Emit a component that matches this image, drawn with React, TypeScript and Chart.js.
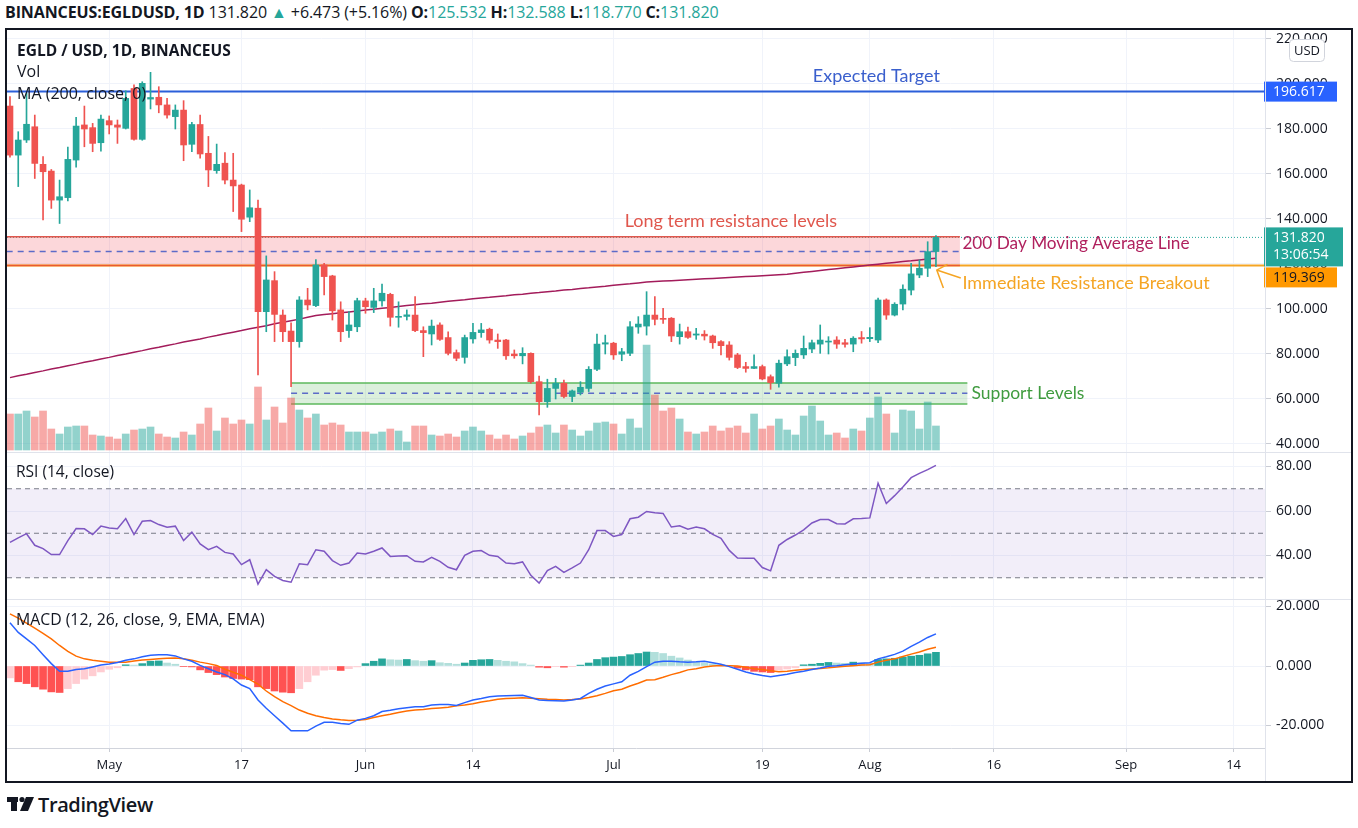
import React, { useEffect, useRef } from 'react';
import { Chart, registerables } from 'chart.js';

Chart.register(...registerables);

// ---------------- DATA (daily candles, Apr 19 -> Aug 9) ----------------
const OPEN = [190.2, 168.4, 175.1, 181.0, 164.3, 161.3, 148.4, 149.5, 166.2, 181.8, 180.6, 173.9, 183.7, 181.8, 180.3, 198.0, 175.4, 193.3, 194.1, 190.7, 185.5, 188.4, 173.2, 182.0, 169.2, 161.5, 164.8, 157.3, 155.1, 140.8, 144.8, 98.8, 112.6, 97.3, 90.2, 85.5, 104.0, 101.5, 119.6, 114.7, 99.6, 90.4, 92.1, 103.6, 100.7, 103.6, 106.5, 96.3, 96.7, 97.3, 90.4, 88.9, 92.9, 87.3, 80.6, 78.5, 86.7, 89.5, 91.0, 86.2, 86.2, 80.0, 79.2, 80.3, 67.7, 58.8, 64.7, 67.0, 61.1, 63.0, 64.7, 73.2, 84.4, 84.8, 79.9, 80.3, 92.0, 92.4, 97.3, 95.8, 95.9, 87.7, 89.9, 88.4, 88.8, 88.0, 85.5, 84.0, 79.6, 74.4, 73.6, 74.4, 69.9, 67.0, 75.6, 78.4, 79.6, 82.2, 84.4, 85.3, 86.2, 85.0, 84.4, 87.3, 86.8, 86.2, 104.0, 97.3, 102.2, 108.4, 115.1, 118.1, 125.532];
const HIGH = [194.4, 178.8, 195.9, 186.2, 167.7, 162.0, 157.3, 172.0, 185.2, 190.2, 182.5, 186.2, 185.8, 184.0, 197.0, 199.6, 201.0, 205.2, 198.8, 193.6, 190.7, 192.6, 183.0, 186.2, 176.7, 173.3, 169.5, 169.2, 155.5, 152.9, 148.4, 123.6, 116.6, 99.6, 93.9, 105.5, 109.2, 122.0, 120.3, 115.0, 103.2, 98.8, 104.8, 104.8, 109.2, 111.1, 107.0, 103.2, 99.6, 105.5, 92.1, 95.1, 93.9, 89.9, 81.8, 88.4, 93.6, 93.6, 91.5, 88.9, 86.5, 81.8, 82.8, 80.5, 70.2, 68.8, 69.2, 68.4, 64.0, 67.7, 74.4, 88.9, 88.4, 85.2, 82.5, 94.4, 96.6, 107.7, 105.5, 100.3, 96.2, 93.3, 92.0, 91.4, 90.4, 88.4, 86.0, 85.5, 80.3, 76.3, 79.6, 75.1, 70.7, 77.3, 81.8, 81.8, 88.0, 86.2, 92.9, 87.7, 87.7, 86.5, 87.7, 90.0, 91.7, 104.8, 104.5, 102.8, 110.7, 120.3, 121.8, 129.9, 132.588];
const LOW = [167.5, 154.4, 174.0, 158.0, 139.6, 144.7, 138.0, 148.0, 163.0, 172.1, 169.9, 170.2, 177.8, 173.6, 180.0, 175.0, 175.0, 188.9, 187.2, 184.8, 180.0, 165.9, 169.9, 167.0, 154.4, 160.3, 155.6, 143.3, 134.4, 138.8, 70.7, 89.9, 85.5, 85.5, 65.5, 83.0, 99.6, 101.0, 106.2, 95.1, 85.5, 87.4, 89.9, 98.1, 98.4, 101.3, 92.4, 91.9, 95.1, 89.9, 78.8, 84.0, 86.0, 79.6, 77.0, 75.9, 84.8, 87.4, 84.8, 82.5, 77.6, 78.1, 75.6, 67.0, 52.9, 56.3, 60.0, 60.5, 58.8, 61.8, 63.3, 72.6, 80.0, 77.6, 77.0, 79.2, 89.2, 88.4, 92.9, 93.6, 85.5, 84.4, 86.9, 86.5, 86.2, 82.5, 79.6, 77.3, 73.5, 71.9, 73.5, 68.5, 64.3, 65.2, 74.8, 74.8, 78.0, 80.6, 80.3, 80.0, 82.5, 83.0, 81.0, 84.8, 85.5, 85.0, 95.4, 96.9, 99.6, 106.2, 113.9, 114.4, 118.77];
const CLOSE = [168.4, 175.1, 182.1, 164.7, 161.0, 148.4, 149.9, 166.5, 181.3, 180.0, 173.6, 184.4, 181.8, 180.8, 193.6, 175.4, 200.3, 194.0, 190.7, 186.2, 188.4, 172.9, 182.0, 168.9, 161.8, 164.3, 157.3, 154.7, 139.9, 145.0, 98.8, 112.9, 97.6, 89.9, 85.5, 104.0, 101.8, 119.6, 114.4, 99.2, 89.9, 92.9, 103.7, 101.0, 103.6, 107.0, 96.3, 96.7, 97.4, 90.4, 89.5, 92.4, 86.5, 80.3, 78.1, 87.3, 89.6, 90.7, 86.2, 85.5, 79.2, 79.2, 80.3, 67.7, 58.8, 64.7, 67.0, 61.1, 63.6, 65.2, 73.2, 84.4, 85.0, 79.6, 81.0, 92.1, 93.3, 97.3, 95.4, 95.4, 88.0, 89.9, 87.4, 88.9, 88.0, 85.0, 83.7, 78.5, 74.0, 73.6, 74.4, 68.9, 67.3, 75.9, 78.8, 80.3, 82.5, 85.0, 86.2, 85.6, 84.4, 84.3, 87.0, 86.7, 87.4, 104.0, 97.3, 102.1, 108.8, 115.6, 118.1, 125.5, 131.82];
// volume, thousand EGLD
const VOLUME = [360, 360, 390, 330, 390, 210, 160, 230, 240, 240, 150, 140, 130, 110, 160, 200, 210, 230, 160, 130, 120, 180, 150, 260, 420, 190, 320, 260, 300, 260, 630, 300, 430, 270, 520, 400, 320, 360, 250, 270, 250, 180, 180, 180, 160, 180, 210, 190, 80, 240, 240, 150, 140, 160, 130, 190, 230, 190, 150, 110, 150, 110, 140, 170, 230, 250, 170, 250, 200, 140, 190, 270, 280, 260, 160, 310, 220, 1050, 550, 390, 420, 310, 180, 160, 180, 240, 190, 220, 240, 170, 360, 210, 240, 310, 200, 150, 340, 440, 290, 150, 170, 120, 210, 190, 320, 530, 360, 170, 400, 390, 210, 480, 240];
const MA200 = [69.5, 70.3, 71.0, 71.8, 72.5, 73.3, 74.0, 74.8, 75.5, 76.3, 77.0, 77.8, 78.5, 79.3, 80.0, 80.8, 81.5, 82.3, 83.0, 83.8, 84.5, 85.3, 86.0, 86.7, 87.5, 88.2, 89.0, 89.7, 90.4, 91.2, 91.9, 92.6, 93.4, 94.1, 94.8, 95.5, 96.3, 97.1, 97.5, 97.9, 98.3, 98.7, 99.1, 99.5, 99.9, 100.3, 100.7, 101.1, 101.5, 101.9, 102.3, 102.6, 103.0, 103.4, 103.8, 104.1, 104.5, 104.9, 105.2, 105.6, 105.9, 106.3, 106.6, 107.0, 107.3, 107.7, 108.0, 108.4, 108.7, 109.1, 109.4, 109.8, 110.1, 110.5, 110.9, 111.2, 111.6, 112.0, 112.2, 112.4, 112.6, 112.8, 113.0, 113.2, 113.4, 113.6, 113.8, 114.0, 114.2, 114.4, 114.6, 114.8, 115.0, 115.2, 115.4, 115.9, 116.3, 116.7, 117.1, 117.5, 117.9, 118.3, 118.7, 119.1, 119.5, 119.9, 120.3, 120.7, 121.1, 121.4, 121.8, 122.2, 122.6, 123.0];
const RSI = [45.9, 47.9, 49.8, 44.6, 43.1, 40.4, 40.4, 46.7, 52.1, 52.0, 49.4, 53.2, 52.4, 52.0, 56.6, 49.4, 55.4, 55.7, 53.9, 52.7, 53.2, 46.7, 50.5, 45.2, 42.6, 44.1, 41.4, 40.7, 35.9, 38.1, 27.1, 33.6, 30.6, 28.8, 28.0, 36.3, 35.9, 42.6, 41.9, 37.7, 35.6, 36.6, 41.1, 40.7, 41.9, 43.4, 39.6, 39.8, 39.9, 37.4, 37.1, 39.2, 37.4, 34.7, 33.6, 40.1, 41.9, 42.2, 40.1, 39.6, 36.6, 36.3, 37.1, 31.1, 27.6, 33.2, 35.1, 32.4, 34.4, 36.6, 42.6, 51.2, 51.2, 48.6, 49.4, 56.5, 57.2, 59.8, 59.2, 58.9, 52.8, 53.4, 51.8, 52.8, 52.0, 49.5, 47.7, 42.3, 38.9, 38.8, 38.8, 34.6, 33.1, 44.6, 47.2, 49.2, 51.5, 54.6, 56.2, 56.2, 54.3, 54.2, 56.5, 56.6, 56.9, 72.5, 63.4, 66.9, 70.8, 75.0, 76.9, 78.6, 80.5];
const MACD = [14.5, 11.3, 9.1, 6.9, 3.8, 0.8, -1.8, -1.8, -1.2, -0.9, -0.3, 0.3, 0.7, 1.2, 1.9, 2.4, 3.1, 3.6, 3.8, 3.8, 3.4, 2.4, 1.6, 0.2, -0.9, -2.0, -2.9, -4.3, -6.4, -7.6, -11.4, -14.2, -16.7, -19.2, -21.8, -21.8, -21.8, -20.2, -18.9, -18.9, -19.3, -19.6, -18.2, -17.6, -16.7, -15.3, -14.9, -14.4, -14.0, -13.7, -13.7, -13.1, -12.9, -12.9, -13.3, -12.3, -11.4, -10.9, -10.3, -10.1, -10.0, -9.9, -9.8, -10.6, -11.4, -11.6, -11.7, -11.8, -11.4, -10.9, -9.2, -7.8, -6.7, -6.0, -5.3, -3.1, -1.8, -0.2, 1.3, 1.6, 1.6, 1.4, 1.3, 1.4, 1.6, 1.1, 0.6, -0.2, -1.1, -2.0, -2.7, -3.2, -3.6, -3.2, -2.8, -2.2, -1.8, -1.2, -0.7, -0.1, 0.1, 0.4, 0.7, 0.9, 1.1, 2.4, 3.1, 3.9, 5.0, 6.6, 8.0, 9.6, 10.8];
const SIGNAL = [17.5, 16.1, 14.4, 12.7, 11.0, 9.1, 6.9, 4.9, 3.3, 2.4, 1.9, 1.6, 1.3, 1.3, 1.3, 1.7, 2.0, 2.2, 2.4, 2.6, 2.7, 2.4, 1.9, 1.3, 0.8, 0.2, -1.1, -2.1, -3.1, -4.6, -6.1, -8.4, -10.3, -12.0, -13.3, -14.8, -15.9, -16.7, -17.3, -17.8, -18.1, -18.3, -18.2, -18.0, -17.3, -16.7, -16.2, -15.6, -15.1, -14.8, -14.6, -14.3, -14.1, -13.9, -13.4, -13.1, -12.7, -12.1, -11.7, -11.2, -10.9, -10.8, -10.7, -10.8, -11.0, -11.2, -11.3, -11.4, -11.3, -11.1, -10.6, -10.0, -9.2, -8.3, -7.8, -6.7, -5.8, -4.7, -4.6, -3.8, -2.9, -2.2, -1.3, -0.9, -0.3, 0.0, 0.2, 0.1, 0.0, -0.4, -0.9, -1.2, -1.6, -1.9, -1.8, -1.4, -1.2, -1.0, -0.8, -0.6, -0.3, -0.1, 0.1, 0.3, 0.4, 1.3, 1.9, 2.4, 3.2, 4.0, 4.7, 5.6, 6.3];
const HIST = [-4.0, -5.3, -5.9, -7.0, -7.8, -8.7, -8.9, -7.6, -5.9, -4.4, -3.3, -2.0, -1.1, -0.6, 0.4, 0.3, 0.8, 1.6, 1.7, 1.0, 0.6, -0.2, -0.3, -1.3, -2.2, -2.9, -3.7, -4.2, -4.4, -4.6, -7.0, -7.6, -8.4, -8.8, -9.0, -7.6, -5.3, -3.1, -1.4, -1.2, -1.5, -0.9, -0.3, 0.8, 1.6, 2.4, 2.1, 2.0, 2.2, 1.8, 1.6, 1.8, 1.1, 0.9, 0.6, 1.0, 1.9, 2.1, 2.2, 1.9, 1.6, 1.4, 0.8, 0.3, -0.4, -0.6, -0.2, -0.4, -0.1, 0.3, 1.0, 2.2, 2.8, 3.0, 3.2, 3.8, 4.2, 4.7, 4.6, 4.2, 3.3, 2.7, 2.0, 1.3, 1.0, 0.7, 0.4, 0.1, -0.7, -1.3, -1.8, -2.0, -2.2, -1.4, -1.0, -0.6, 0.4, 0.6, 0.9, 1.2, 1.0, 0.9, 1.3, 1.1, 0.9, 2.2, 2.4, 2.6, 3.0, 3.3, 3.6, 4.1, 4.6];

// time-axis ticks (day index, 1 = Apr 19)
const DATE_TICKS = [13, 29, 44, 57, 74, 92, 105, 120, 136, 149];
const DATE_LABELS = ['May', '17', 'Jun', '14', 'Jul', '19', 'Aug', '16', 'Sep', '14'];

// drawn levels / annotations (price values)
const TARGET = 196.617;
const BREAKOUT = 119.369;
const LAST_PRICE = 131.82;
const LAST_TIME = '13:06:54';
const RES_ZONE = { from: 0.6, to: 115.9, low: 119.369, high: 132.1, mid: 125.5 };
const SUP_ZONE = { from: 35, to: 116.8, low: 57.8, high: 67.1, mid: 62.5 };
const NOTES = [
  { text: 'Expected Target', x: 105.8, y: 203.6, align: 'center', color: '#3a5fcd', size: 18 },
  { text: 'Long term resistance levels', x: 88.2, y: 139.1, align: 'center', color: '#e0574d', size: 18 },
  { text: '200 Day Moving Average Line', x: 116.2, y: 129.3, align: 'left', color: '#b0215e', size: 17.2 },
  { text: 'Immediate Resistance Breakout', x: 116.2, y: 111.6, align: 'left', color: '#f5a524', size: 18 },
  { text: 'Support Levels', x: 117.3, y: 62.7, align: 'left', color: '#3f9b3f', size: 17.5 },
];

// ---------------- STYLE ----------------
const FONT = "'Open Sans', 'Noto Sans', sans-serif";
const NOTE_FONT = "Lato, 'Open Sans', sans-serif";
const GRID = '#f0f3fa';
const AXIS_TEXT = '#131722';
const UP = '#26a69a';
const DOWN = '#ef5350';
const X_MIN = 0.64;
const X_MAX = 152.8;
const CANVAS_W = 1344;
const AXIS_W = 86;

const DAY = OPEN.map((_, i) => i + 1);
const isUp = DAY.map((_, i) => CLOSE[i] >= OPEN[i]);

function xScale(showLabels: boolean, height: number) {
  return {
    type: 'linear',
    min: X_MIN,
    max: X_MAX,
    offset: false,
    grid: { color: GRID, offset: false, drawTicks: showLabels, tickLength: 4, tickColor: '#c9ccd4' },
    border: { display: showLabels, color: '#d1d4dc' },
    ticks: {
      display: showLabels,
      autoSkip: false,
      maxRotation: 0,
      padding: 5,
      color: AXIS_TEXT,
      font: { family: FONT, size: 13 },
      callback: (_v: any, i: number) => DATE_LABELS[i],
    },
    afterBuildTicks: (s: any) => {
      s.ticks = DATE_TICKS.map((v) => ({ value: v }));
    },
    afterFit: (s: any) => {
      s.height = height;
      s.paddingLeft = 0;
      s.paddingRight = 0;
    },
  };
}

function yScale(min: number, max: number, decimals: number) {
  return {
    type: 'linear',
    position: 'right',
    min,
    max,
    grid: { color: GRID, drawTicks: true, tickLength: 6, tickColor: '#c9ccd4' },
    border: { display: false },
    ticks: {
      stepSize: 20,
      includeBounds: false,
      padding: 5,
      color: AXIS_TEXT,
      font: { family: FONT, size: 14 },
      callback: (v: any) => Number(v).toFixed(decimals),
    },
    afterFit: (s: any) => {
      s.width = AXIS_W;
      s.paddingTop = 0;
      s.paddingBottom = 0;
    },
  };
}

const baseOptions = {
  responsive: false,
  maintainAspectRatio: false,
  animation: false,
  layout: { padding: 0 },
  plugins: { legend: { display: false }, tooltip: { enabled: false } },
};

function hline(ctx: any, x0: number, x1: number, py: number, color: string, width: number, dash: number[]) {
  ctx.save();
  ctx.strokeStyle = color;
  ctx.lineWidth = width;
  ctx.setLineDash(dash);
  ctx.beginPath();
  ctx.moveTo(x0, py);
  ctx.lineTo(x1, py);
  ctx.stroke();
  ctx.restore();
}

const priceAnnotations = {
  id: 'priceAnnotations',
  beforeDatasetsDraw(chart: any) {
    const { ctx, chartArea: ca, scales } = chart;
    const x = scales.x;
    const y = scales.y;
    ctx.save();
    ctx.beginPath();
    ctx.rect(ca.left, ca.top, ca.right - ca.left, ca.bottom - ca.top);
    ctx.clip();
    hline(ctx, ca.left, ca.right, y.getPixelForValue(LAST_PRICE), '#26a69a', 1, [1, 2]);
    const rx0 = x.getPixelForValue(RES_ZONE.from);
    const rx1 = x.getPixelForValue(RES_ZONE.to);
    const ry0 = y.getPixelForValue(RES_ZONE.high);
    const ry1 = y.getPixelForValue(RES_ZONE.low);
    ctx.fillStyle = 'rgba(242,54,69,0.2)';
    ctx.fillRect(rx0, ry0, rx1 - rx0, ry1 - ry0);
    hline(ctx, rx0, rx1, y.getPixelForValue(RES_ZONE.mid), '#5c6bc8', 1.5, [6, 5]);
    hline(ctx, ca.left, ca.right, y.getPixelForValue(BREAKOUT), '#f5a524', 2, []);
    hline(ctx, rx0, rx1, ry0, '#e0574d', 1.5, []);
    hline(ctx, rx0, rx1, ry1, '#ea5a30', 1.5, []);
    const sx0 = x.getPixelForValue(SUP_ZONE.from);
    const sx1 = x.getPixelForValue(SUP_ZONE.to);
    const sy0 = y.getPixelForValue(SUP_ZONE.high);
    const sy1 = y.getPixelForValue(SUP_ZONE.low);
    ctx.fillStyle = 'rgba(76,175,80,0.2)';
    ctx.fillRect(sx0, sy0, sx1 - sx0, sy1 - sy0);
    hline(ctx, sx0, sx1, y.getPixelForValue(SUP_ZONE.mid), '#5c6bc8', 1.5, [6, 5]);
    hline(ctx, sx0, sx1, sy0, '#5cb85c', 1.5, []);
    hline(ctx, sx0, sx1, sy1, '#5cb85c', 1.5, []);
    hline(ctx, ca.left, ca.right, y.getPixelForValue(TARGET), '#2b5fd9', 2, []);
    ctx.restore();
  },
  afterDatasetsDraw(chart: any) {
    const { ctx, scales } = chart;
    const x = scales.x;
    const y = scales.y;
    ctx.save();
    ctx.textBaseline = 'middle';
    NOTES.forEach((n) => {
      ctx.font = `${n.size}px ${NOTE_FONT}`;
      ctx.fillStyle = n.color;
      ctx.textAlign = n.align;
      ctx.fillText(n.text, x.getPixelForValue(n.x), y.getPixelForValue(n.y));
    });
    ctx.strokeStyle = '#f5a524';
    ctx.lineWidth = 1.5;
    const P = (a: number, b: number) => [x.getPixelForValue(a), y.getPixelForValue(b)];
    const tip = P(113.1, 117.3);
    const tail = P(116.0, 113.8);
    const arm1 = P(114.4, 119.8);
    const arm2 = P(113.9, 109.3);
    ctx.beginPath();
    ctx.moveTo(tail[0], tail[1]);
    ctx.lineTo(tip[0], tip[1]);
    ctx.moveTo(arm1[0], arm1[1]);
    ctx.lineTo(tip[0], tip[1]);
    ctx.lineTo(arm2[0], arm2[1]);
    ctx.stroke();
    ctx.restore();
  },
  afterDraw(chart: any) {
    const { ctx, chartArea: ca, scales } = chart;
    const y = scales.y;
    const bx = ca.right - 1;
    ctx.save();
    ctx.font = `14px ${FONT}`;
    ctx.textBaseline = 'middle';
    ctx.textAlign = 'left';
    const ty = y.getPixelForValue(TARGET);
    ctx.fillStyle = '#2962ff';
    ctx.fillRect(bx, ty - 10, 73, 20);
    ctx.fillStyle = '#ffffff';
    ctx.fillText(TARGET.toFixed(3), bx + 9, ty + 0.5);
    const ly = y.getPixelForValue(LAST_PRICE);
    ctx.fillStyle = UP;
    ctx.fillRect(bx, ly - 10, 79, 39);
    ctx.fillStyle = '#ffffff';
    ctx.fillText(LAST_PRICE.toFixed(3), bx + 9, ly + 0.5);
    ctx.fillText(LAST_TIME, bx + 9, ly + 18);
    const oy = ly + 30;
    ctx.fillStyle = '#ff9800';
    ctx.fillRect(bx, oy, 73, 20);
    ctx.fillStyle = '#131722';
    ctx.fillText(BREAKOUT.toFixed(3), bx + 9, oy + 10.5);
    const ux = ca.right + 24;
    const uy = 9;
    ctx.fillStyle = '#ffffff';
    ctx.strokeStyle = '#d1d4dc';
    ctx.lineWidth = 1;
    ctx.beginPath();
    if ((ctx as any).roundRect) (ctx as any).roundRect(ux + 0.5, uy + 0.5, 35, 22, 4);
    else ctx.rect(ux + 0.5, uy + 0.5, 35, 22);
    ctx.fill();
    ctx.stroke();
    ctx.fillStyle = '#131722';
    ctx.font = `13px ${FONT}`;
    ctx.textAlign = 'center';
    ctx.fillText('USD', ux + 18, uy + 12);
    ctx.restore();
  },
};

const rsiBands = {
  id: 'rsiBands',
  beforeDatasetsDraw(chart: any) {
    const { ctx, chartArea: ca, scales } = chart;
    const y = scales.y;
    const y70 = y.getPixelForValue(70);
    const y30 = y.getPixelForValue(30);
    ctx.save();
    ctx.fillStyle = 'rgba(126,87,194,0.1)';
    ctx.fillRect(ca.left, y70, ca.right - ca.left, y30 - y70);
    [70, 50, 30].forEach((v) => hline(ctx, ca.left, ca.right, y.getPixelForValue(v), '#787b86', 1, [5, 4]));
    ctx.restore();
  },
};

function priceConfig(): any {
  const candleColor = isUp.map((u) => (u ? UP : DOWN));
  const volColor = isUp.map((u) => (u ? 'rgba(38,166,154,0.5)' : 'rgba(239,83,80,0.5)'));
  return {
    type: 'bar',
    data: {
      datasets: [
        { type: 'bar', data: DAY.map((d, i) => ({ x: d, y: VOLUME[i] })), yAxisID: 'yVol', backgroundColor: volColor, barThickness: 7, grouped: false, order: 10 },
        { type: 'line', data: DAY.map((d, i) => ({ x: d, y: MA200[i] })), yAxisID: 'y', borderColor: '#a31c5b', borderWidth: 1.5, pointRadius: 0, order: 5 },
        { type: 'bar', data: DAY.map((d, i) => ({ x: d, y: [LOW[i], HIGH[i]] })), yAxisID: 'y', backgroundColor: candleColor, barThickness: 1, grouped: false, order: 3 },
        { type: 'bar', data: DAY.map((d, i) => ({ x: d, y: [OPEN[i], CLOSE[i]] })), yAxisID: 'y', backgroundColor: candleColor, barThickness: 6, minBarLength: 1, grouped: false, order: 2 },
      ],
    },
    options: {
      ...baseOptions,
      scales: {
        x: xScale(false, 0),
        y: yScale(36.44, 224.0, 3),
        yVol: { type: 'linear', display: false, min: -20, max: 4200 },
      },
    },
    plugins: [priceAnnotations],
  };
}

function rsiConfig(): any {
  return {
    type: 'line',
    data: {
      datasets: [
        { data: DAY.map((d, i) => ({ x: d, y: RSI[i] })), borderColor: '#7e57c2', borderWidth: 1.5, pointRadius: 0 },
      ],
    },
    options: {
      ...baseOptions,
      scales: { x: xScale(false, 0), y: yScale(20.45, 86.52, 2) },
    },
    plugins: [rsiBands],
  };
}

function macdConfig(): any {
  const histColor = HIST.map((h, i) => {
    const prev = i > 0 ? HIST[i - 1] : h;
    if (h >= 0) return h >= prev ? '#26a69a' : '#b2dfdb';
    return h < prev ? '#ff5252' : '#ffcdd2';
  });
  return {
    type: 'bar',
    data: {
      datasets: [
        { type: 'bar', data: DAY.map((d, i) => ({ x: d, y: HIST[i] })), backgroundColor: histColor, barThickness: 7, grouped: false, order: 10 },
        { type: 'line', data: DAY.map((d, i) => ({ x: d, y: SIGNAL[i] })), borderColor: '#ff6d00', borderWidth: 1.5, pointRadius: 0, order: 2 },
        { type: 'line', data: DAY.map((d, i) => ({ x: d, y: MACD[i] })), borderColor: '#2962ff', borderWidth: 1.5, pointRadius: 0, order: 1 },
      ],
    },
    options: {
      ...baseOptions,
      scales: { x: xScale(true, 33), y: yScale(-27.56, 22.52, 3) },
    },
  };
}

function ChartCanvas({ make, top, height }: { make: () => any; top: number; height: number }) {
  const ref = useRef<HTMLCanvasElement>(null);
  useEffect(() => {
    const chart = new Chart(ref.current as HTMLCanvasElement, make());
    return () => chart.destroy();
  }, []);
  return (
    <canvas
      ref={ref}
      width={CANVAS_W}
      height={height}
      style={{ position: 'absolute', left: 7, top, width: CANVAS_W, height }}
    />
  );
}

const abs = (left: number, top: number, extra: any = {}) => ({ position: 'absolute' as const, left, top, ...extra });
const teal = { color: '#26a69a' };

export default function App() {
  return (
    <div style={{ position: 'absolute', left: 0, top: 0, width: 1358, height: 828, background: '#ffffff', overflow: 'hidden', fontFamily: FONT, color: '#131722' }}>
      <ChartCanvas make={priceConfig} top={30} height={422} />
      <ChartCanvas make={rsiConfig} top={452} height={147} />
      <ChartCanvas make={macdConfig} top={599} height={182} />

      <div style={abs(7, 452, { width: 1344, height: 1, background: '#e0e3eb' })} />
      <div style={abs(7, 599, { width: 1344, height: 1, background: '#e0e3eb' })} />
      <div style={abs(1265, 30, { width: 1, height: 751, background: '#e0e3eb' })} />
      <div style={abs(5, 28, { width: 1348, height: 755, border: '2px solid #131722', boxSizing: 'border-box' })} />

      <div style={abs(5, 1, { height: 22, lineHeight: '22px', fontSize: 16, whiteSpace: 'nowrap', letterSpacing: -0.1 })}>
        <b>BINANCEUS:EGLDUSD, 1D</b> 131.820 <span style={teal}>▲</span> +6.473 (+5.16%) <b>O:</b>
        <span style={teal}>125.532</span> <b>H:</b>
        <span style={teal}>132.588</span> <b>L:</b>
        <span style={teal}>118.770</span> <b>C:</b>
        <span style={teal}>131.820</span>
      </div>

      <div style={abs(17, 40, { fontSize: 15.5, fontWeight: 700, lineHeight: '20px', whiteSpace: 'nowrap' })}>EGLD / USD, 1D, BINANCEUS</div>
      <div style={abs(17, 61, { fontSize: 16, lineHeight: '20px' })}>Vol</div>
      <div style={abs(17, 83, { fontSize: 16, lineHeight: '20px', whiteSpace: 'nowrap' })}>MA (200, close, 0)</div>
      <div style={abs(16, 461, { fontSize: 15.5, lineHeight: '20px', whiteSpace: 'nowrap' })}>RSI (14, close)</div>
      <div style={abs(16, 609, { fontSize: 15.8, lineHeight: '20px', whiteSpace: 'nowrap' })}>MACD (12, 26, close, 9, EMA, EMA)</div>

      <div style={abs(7, 793, { display: 'flex', alignItems: 'center', height: 22 })}>
        <svg width="28" height="16" viewBox="0 0 28 16">
          <rect x="0" y="1" width="11" height="5" fill="#131722" />
          <rect x="4" y="1" width="6" height="14" fill="#131722" />
          <circle cx="15" cy="3.5" r="2.6" fill="#131722" />
          <polygon points="19,1 27,1 21,15 13,15" fill="#131722" />
        </svg>
        <span style={{ fontSize: 20, fontWeight: 600, marginLeft: 3, letterSpacing: -0.4 }}>TradingView</span>
      </div>
    </div>
  );
}
